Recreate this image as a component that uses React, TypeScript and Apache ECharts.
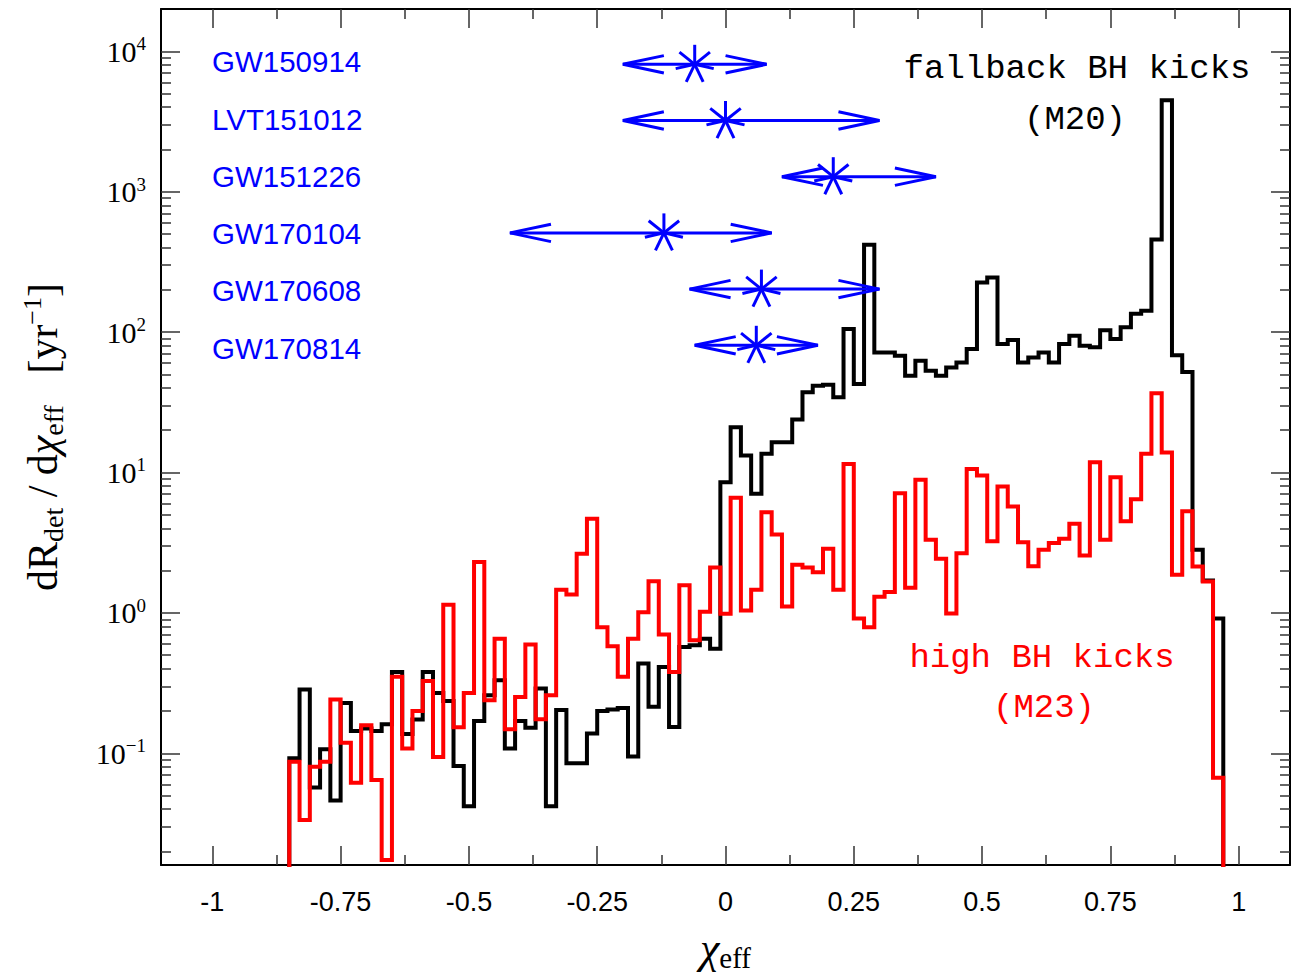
import React, { useEffect, useRef } from 'react';
import * as echarts from 'echarts';

// ---------- data ----------
const BIN_START = -0.85;
const BIN_WIDTH = 0.02;

// fallback BH kicks (M20), one value per bin
const fallbackKicks = [
  0.092, 0.284, 0.057, 0.107, 0.046, 0.228, 0.144, 0.150, 0.144, 0.161,
  0.379, 0.137, 0.174, 0.379, 0.269, 0.236, 0.081, 0.042, 0.170, 0.259,
  0.331, 0.108, 0.170, 0.152, 0.289, 0.042, 0.203, 0.085, 0.085, 0.138,
  0.200, 0.205, 0.210, 0.095, 0.435, 0.214, 0.412, 0.154, 0.571, 0.587,
  0.655, 0.556, 8.51, 21.0, 13.2, 7.04, 13.6, 16.4, 16.4, 23.8,
  37.2, 41.5, 42.2, 34.3, 105, 42.7, 418, 71.6, 71.6, 67.8,
  48.9, 62.5, 53.1, 48.9, 56.0, 60.8, 75.7, 225, 245, 82.2,
  87.8, 60.8, 66.0, 71.6, 60.8, 82.2, 94.2, 80.0, 77.8, 103,
  89.1, 108, 135, 142, 456, 4480, 68.3, 52.0, 2.81, 1.70,
  0.91,
];

// high BH kicks (M23), one value per bin
const highKicks = [
  0.087, 0.0334, 0.080, 0.087, 0.241, 0.119, 0.0616, 0.158, 0.0644, 0.0174,
  0.350, 0.108, 0.200, 0.327, 0.094, 1.14, 0.153, 0.269, 2.30, 0.239,
  0.655, 0.148, 0.252, 0.594, 0.175, 0.259, 1.46, 1.35, 2.64, 4.68,
  0.79, 0.578, 0.350, 0.655, 1.01, 1.68, 0.700, 0.379, 1.57, 0.637,
  1.02, 2.10, 0.987, 6.60, 1.04, 1.46, 5.21, 3.62, 1.11, 2.20,
  2.10, 1.95, 2.86, 1.46, 11.5, 0.91, 0.79, 1.30, 1.41, 7.11,
  1.51, 8.86, 3.32, 2.43, 0.99, 2.66, 10.6, 9.5, 3.24, 7.94,
  5.72, 3.19, 2.15, 2.81, 3.14, 3.37, 4.31, 2.56, 11.8, 3.32,
  9.25, 4.50, 6.45, 13.6, 36.6, 13.9, 1.87, 5.30, 2.14, 1.67,
  0.067,
];

const eventNames = ['GW150914', 'LVT151012', 'GW151226', 'GW170104', 'GW170608', 'GW170814'];
const eventChi = [-0.06, 0.0, 0.21, -0.12, 0.07, 0.06];
const eventLow = [-0.20, -0.20, 0.11, -0.42, -0.07, -0.06];
const eventHigh = [0.08, 0.30, 0.41, 0.09, 0.30, 0.18];

const xMajorTicks = [-1, -0.75, -0.5, -0.25, 0, 0.25, 0.5, 0.75, 1];
const xMinorTicks = [-0.875, -0.625, -0.375, -0.125, 0.125, 0.375, 0.625, 0.875];
const yMajorTicks = [0.1, 1, 10, 100, 1000, 10000];
const yMinorTicks = [
  0.02, 0.03, 0.04, 0.05, 0.06, 0.07, 0.08, 0.09,
  0.2, 0.3, 0.4, 0.5, 0.6, 0.7, 0.8, 0.9,
  2, 3, 4, 5, 6, 7, 8, 9,
  20, 30, 40, 50, 60, 70, 80, 90,
  200, 300, 400, 500, 600, 700, 800, 900,
  2000, 3000, 4000, 5000, 6000, 7000, 8000, 9000,
];

// ---------- layout / style ----------
const BLUE = '#0000ff';
const RED = '#ff0000';
const TICK_COLOR = '#333333';
const ARROW_ROW_TOP = 64.3;
const ARROW_ROW_GAP = 56.2;
const LABEL_ROW_TOP = 61.7;
const LABEL_ROW_GAP = 57.3;
const LABEL_LEFT = 212;
const FLOOR = 0.001;

function stepPoints(vals: number[]) {
  const pts: number[][] = [[BIN_START, FLOOR]];
  vals.forEach((v, i) => pts.push([BIN_START + i * BIN_WIDTH, v]));
  const end = BIN_START + vals.length * BIN_WIDTH;
  pts.push([end, vals[vals.length - 1]]);
  pts.push([end, FLOOR]);
  return pts;
}

const serif = 'Liberation Serif';
const mono = '34px "Liberation Mono"';

function buildOption(): any {
  const commonX = {
    type: 'value', min: -1.1, max: 1.1,
    splitLine: { show: false }, minorTick: { show: false },
    axisLabel: { show: false }, axisLine: { show: false, onZero: false },
  };
  const commonY = {
    type: 'log', logBase: 10, min: 0.016, max: 20000,
    splitLine: { show: false }, minorTick: { show: false }, minorSplitLine: { show: false },
    axisLabel: { show: false }, axisLine: { show: false, onZero: false },
  };
  const frameLine = { show: true, onZero: false, lineStyle: { color: '#000', width: 2 } };
  const majorTick = (vals: number[]) => ({
    show: true, inside: true, length: 19, customValues: vals,
    lineStyle: { color: TICK_COLOR, width: 1.5 },
  });
  const minorTick = (vals: number[]) => ({
    show: true, inside: true, length: 10, customValues: vals,
    lineStyle: { color: TICK_COLOR, width: 1.5 },
  });
  const textStyle = (fill: string) => ({
    font: mono, fill, align: 'center', verticalAlign: 'middle', textAlign: 'center', textVerticalAlign: 'middle',
  });

  return {
    animation: false,
    grid: { left: 161, right: 12, top: 9, bottom: 110, show: false, outerBoundsMode: 'none' },
    xAxis: [
      {
        ...commonX, position: 'bottom', axisLine: frameLine, axisTick: majorTick(xMajorTicks),
        axisLabel: {
          show: true, customValues: xMajorTicks, formatter: (v: number) => String(v),
          margin: 23, color: '#000', fontFamily: 'Liberation Sans', fontSize: 27,
        },
        name: '{c|χ}{e|eff}', nameLocation: 'middle', nameGap: 59,
        nameTextStyle: {
          rich: {
            c: { fontFamily: serif, fontStyle: 'italic', fontSize: 44, lineHeight: 48, verticalAlign: 'middle', color: '#000' },
            e: { fontFamily: serif, fontSize: 29, lineHeight: 20, verticalAlign: 'bottom', color: '#000' },
          },
        },
      },
      { ...commonX, position: 'bottom', axisTick: minorTick(xMinorTicks) },
      { ...commonX, position: 'top', axisLine: frameLine, axisTick: majorTick(xMajorTicks) },
      { ...commonX, position: 'top', axisTick: minorTick(xMinorTicks) },
    ],
    yAxis: [
      {
        ...commonY, position: 'left', axisLine: frameLine, axisTick: majorTick(yMajorTicks),
        axisLabel: {
          show: true, customValues: yMajorTicks, margin: 15,
          formatter: (v: number) => {
            const e = Math.round(Math.log10(v));
            return `{b|10}{s|${e < 0 ? '\u2212' + -e : e}}`;
          },
          rich: {
            b: { fontFamily: serif, fontSize: 30, lineHeight: 34, verticalAlign: 'middle', color: '#000' },
            s: { fontFamily: serif, fontSize: 19, lineHeight: 24, verticalAlign: 'top', color: '#000' },
          },
        },
        name: '{m|dR}{sb|det}{m| / d}{mi|χ}{sb|eff}{m|   [yr}{sp|\u22121}{m|]}',
        nameLocation: 'middle', nameRotate: 90, nameGap: 94,
        nameTextStyle: {
          rich: {
            m: { fontFamily: serif, fontSize: 42, lineHeight: 48, verticalAlign: 'middle', color: '#000' },
            mi: { fontFamily: serif, fontStyle: 'italic', fontSize: 42, lineHeight: 48, verticalAlign: 'middle', color: '#000' },
            sb: { fontFamily: serif, fontSize: 28, lineHeight: 20, verticalAlign: 'bottom', color: '#000' },
            sp: { fontFamily: serif, fontSize: 26, lineHeight: 26, verticalAlign: 'top', color: '#000' },
          },
        },
      },
      { ...commonY, position: 'left', axisTick: minorTick(yMinorTicks) },
      { ...commonY, position: 'right', axisLine: frameLine, axisTick: majorTick(yMajorTicks) },
      { ...commonY, position: 'right', axisTick: minorTick(yMinorTicks) },
    ],
    graphic: [
      { type: 'text', x: 1077, y: 69, style: { text: 'fallback BH kicks', ...textStyle('#000') } },
      { type: 'text', x: 1075, y: 120, style: { text: '(M20)', ...textStyle('#000') } },
      { type: 'text', x: 1042, y: 658, style: { text: 'high BH kicks', ...textStyle(RED) } },
      { type: 'text', x: 1044, y: 708, style: { text: '(M23)', ...textStyle(RED) } },
    ],
    series: [
      {
        type: 'line', xAxisIndex: 0, yAxisIndex: 0, step: 'end', symbol: 'none', clip: true,
        data: stepPoints(fallbackKicks),
        lineStyle: { color: '#000', width: 4, join: 'miter' }, itemStyle: { color: '#000' },
        emphasis: { disabled: true }, silent: true, z: 2,
      },
      {
        type: 'line', xAxisIndex: 0, yAxisIndex: 0, step: 'end', symbol: 'none', clip: true,
        data: stepPoints(highKicks),
        lineStyle: { color: RED, width: 4, join: 'miter' }, itemStyle: { color: RED },
        emphasis: { disabled: true }, silent: true, z: 3,
      },
      {
        type: 'custom', xAxisIndex: 0, yAxisIndex: 0, silent: true, z: 5,
        data: eventChi.map((c, i) => [c, eventLow[i], eventHigh[i], 1]),
        encode: { x: [0, 1, 2], y: 3 },
        renderItem: (params: any, api: any) => {
          const i = params.dataIndex;
          const y = ARROW_ROW_TOP + i * ARROW_ROW_GAP;
          const xc = api.coord([api.value(0), 1])[0];
          const xl = api.coord([api.value(1), 1])[0];
          const xr = api.coord([api.value(2), 1])[0];
          const st = { stroke: BLUE, lineWidth: 3, fill: null };
          const children: any[] = [
            { type: 'line', shape: { x1: xl, y1: y, x2: xr, y2: y }, style: st },
            { type: 'polyline', shape: { points: [[xl + 41, y - 8.7], [xl, y], [xl + 41, y + 8.7]] }, style: st },
            { type: 'polyline', shape: { points: [[xr - 41, y - 8.7], [xr, y], [xr - 41, y + 8.7]] }, style: st },
          ];
          const R = 19.5;
          for (let k = 0; k < 7; k++) {
            const a = (k * 2 * Math.PI) / 7;
            children.push({
              type: 'line',
              shape: { x1: xc, y1: y, x2: xc + R * Math.sin(a), y2: y - R * Math.cos(a) },
              style: st,
            });
          }
          children.push({
            type: 'text', x: LABEL_LEFT, y: LABEL_ROW_TOP + i * LABEL_ROW_GAP,
            style: {
              text: eventNames[i], fill: BLUE, font: '29.5px "Liberation Sans"',
              align: 'left', verticalAlign: 'middle', textAlign: 'left', textVerticalAlign: 'middle',
            },
          });
          return { type: 'group', children };
        },
      },
    ],
  };
}

export default function App() {
  const ref = useRef<HTMLDivElement>(null);
  useEffect(() => {
    const chart = echarts.init(ref.current!, null, { renderer: 'svg' });
    chart.setOption(buildOption());
    return () => chart.dispose();
  }, []);
  return (
    <div
      ref={ref}
      style={{ position: 'absolute', left: 0, top: 0, width: 1302, height: 975, background: '#fff' }}
    />
  );
}
